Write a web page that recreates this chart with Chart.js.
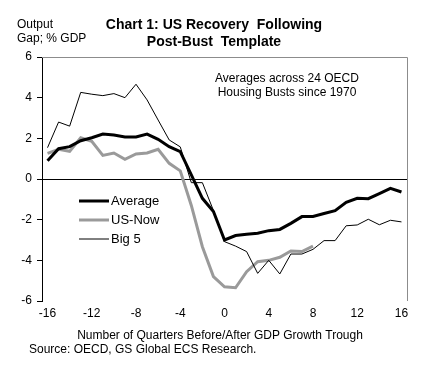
<!DOCTYPE html>
<html>
<head>
<meta charset="utf-8">
<script src="https://cdn.jsdelivr.net/npm/chart.js@4.4.1/dist/chart.umd.min.js"></script>
<style>
html,body{margin:0;padding:0;background:#fff;}
#wrap{width:424px;height:367px;position:relative;}
</style>
</head>
<body>
<div id="wrap"><canvas id="c" width="424" height="367"></canvas></div>
<script>
const quarters = [-16,-15,-14,-13,-12,-11,-10,-9,-8,-7,-6,-5,-4,-3,-2,-1,0,1,2,3,4,5,6,7,8,9,10,11,12,13,14,15,16];
const average = [0.9,1.49,1.59,1.88,2.03,2.21,2.16,2.07,2.07,2.21,1.95,1.59,1.35,0.2,-0.95,-1.6,-3.0,-2.78,-2.72,-2.67,-2.54,-2.48,-2.18,-1.85,-1.84,-1.7,-1.56,-1.15,-0.95,-0.97,-0.72,-0.46,-0.64];
const usNow = [1.26,1.46,1.36,2.03,1.85,1.16,1.28,0.97,1.23,1.28,1.46,0.77,0.4,-1.3,-3.33,-4.8,-5.3,-5.35,-4.56,-4.07,-4.0,-3.85,-3.54,-3.57,-3.3,null,null,null,null,null,null,null,null];
const big5 = [1.54,2.8,2.6,4.26,4.17,4.1,4.2,4.0,4.66,3.89,2.9,1.92,1.58,-0.18,-0.18,-1.55,-3.08,-3.3,-3.57,-4.64,-4.0,-4.67,-3.69,-3.69,-3.46,-3.03,-3.03,-2.3,-2.26,-1.98,-2.25,-2.03,-2.11];
const xTicks = [-16,-12,-8,-4,0,4,8,12,16];
const yTicks = [-6,-4,-2,0,2,4,6];

const FONT = "'Liberation Sans', Arial, sans-serif";
const toPts = arr => quarters.map((q,i)=>({x:q,y:arr[i]}));

const textPlugin = {
  id:'texts',
  afterDraw(chart){
    const ctx = chart.ctx, a = chart.chartArea;
    ctx.save();
    // top and right border
    ctx.strokeStyle = '#8c8c8c'; ctx.lineWidth = 1;
    ctx.beginPath();
    ctx.moveTo(a.left, a.top+0.5); ctx.lineTo(a.right+0.5, a.top+0.5); ctx.lineTo(a.right+0.5, a.bottom);
    ctx.stroke();
    ctx.fillStyle = '#000';
    ctx.textBaseline = 'middle';
    ctx.font = 'bold 14px ' + FONT;
    ctx.textAlign = 'center';
    ctx.fillText('Chart 1: US Recovery  Following', 214, 25);
    ctx.fillText('Post-Bust  Template', 214, 42);
    ctx.font = '12px ' + FONT;
    ctx.textAlign = 'left';
    ctx.fillText('Output', 17, 25);
    ctx.fillText('Gap; % GDP', 17, 39);
    ctx.textAlign = 'center';
    ctx.fillText('Averages across 24 OECD', 287, 79);
    ctx.fillText('Housing Busts since 1970', 287, 93);
    ctx.fillText('Number of Quarters Before/After GDP Growth Trough', 220, 336);
    ctx.textAlign = 'left';
    ctx.fillText('Source: OECD, GS Global ECS Research.', 29, 350);
    // legend
    const items = chart.data.datasets;
    const ys = [201, 220, 239];
    items.forEach((d,i)=>{
      ctx.strokeStyle = d.borderColor; ctx.lineWidth = d.borderWidth;
      ctx.beginPath(); ctx.moveTo(79, ys[i]); ctx.lineTo(109, ys[i]); ctx.stroke();
      ctx.fillStyle = '#000';
      ctx.font = '13px ' + FONT;
      ctx.fillText(d.label, 111, ys[i]);
    });
    ctx.restore();
  }
};

new Chart(document.getElementById('c'), {
  type:'line',
  data:{
    datasets:[
      {label:'Average', data:toPts(average), borderColor:'#000', borderWidth:3, pointRadius:0, tension:0, order:1},
      {label:'US-Now', data:toPts(usNow), borderColor:'#9a9a9a', borderWidth:3, pointRadius:0, tension:0, spanGaps:false, order:2},
      {label:'Big 5', data:toPts(big5), borderColor:'#000', borderWidth:1, pointRadius:0, tension:0, order:0}
    ]
  },
  options:{
    responsive:false, animation:false,
    layout:{padding:{top:57, right:17, left:0, bottom:0}},
    plugins:{legend:{display:false}, tooltip:{enabled:false}, title:{display:false}},
    scales:{
      x:{
        type:'linear', min:-16.5, max:16.5,
        afterBuildTicks(s){ s.ticks = xTicks.map(v=>({value:v})); },
        afterFit(s){ s.height = 66; },
        grid:{display:false, drawTicks:false},
        border:{display:false},
        ticks:{font:{family:FONT, size:12}, color:'#000', padding:5, maxRotation:0, autoSkip:false}
      },
      y:{
        min:-6, max:6,
        afterBuildTicks(s){ s.ticks = yTicks.map(v=>({value:v})); },
        afterFit(s){ s.width = 42; },
        grid:{
          color:c=> c.tick && c.tick.value===0 ? '#000' : 'rgba(0,0,0,0)',
          tickColor:'#000', tickLength:5, drawTicks:true, lineWidth:1
        },
        border:{display:true, color:'#000', width:1},
        ticks:{font:{family:FONT, size:12}, color:'#000', padding:5}
      }
    }
  },
  plugins:[textPlugin]
});
</script>
</body>
</html>
